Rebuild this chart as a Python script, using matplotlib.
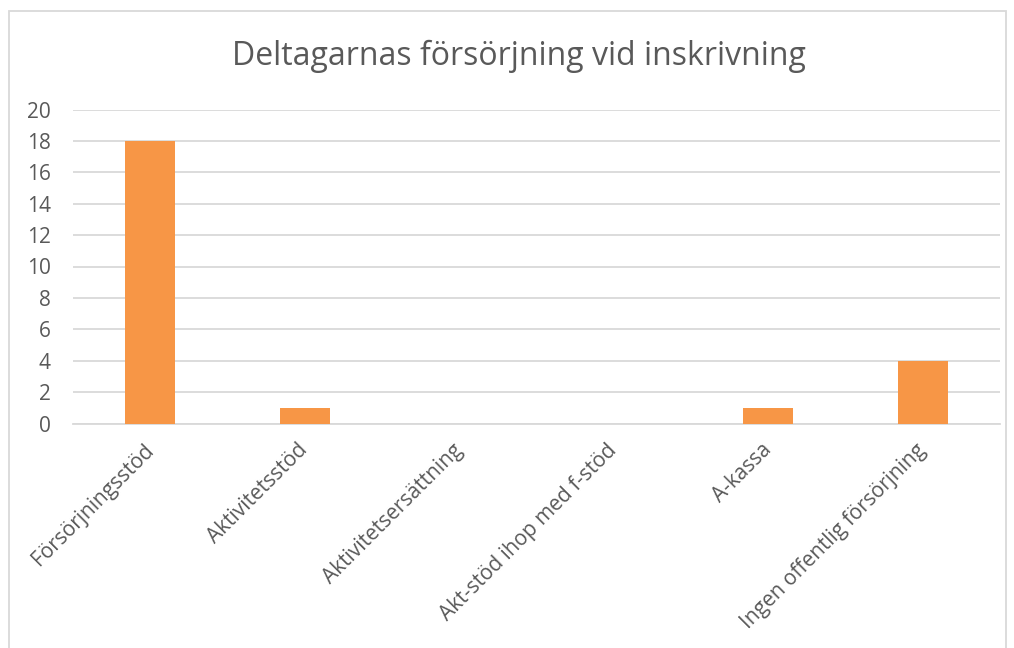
import matplotlib.pyplot as plt
from matplotlib.patches import Rectangle

# ── Data ──────────────────────────────────────────────────────────────────────
kategorier = ['Försörjningsstöd', 'Aktivitetsstöd', 'Aktivitetsersättning',
              'Akt-stöd ihop med f-stöd', 'A-kassa',
              'Ingen offentlig försörjning']
antal = [18, 1, 0, 0, 1, 4]
y_ticks = [0, 2, 4, 6, 8, 10, 12, 14, 16, 18, 20]

TEXT = '#595959'
GRID = '#D9D9D9'
ORANGE = '#F79646'

plt.rcParams['font.family'] = ['Open Sans', 'DejaVu Sans']

fig = plt.figure(figsize=(10.14, 6.48), dpi=100)
ax = fig.add_axes([73 / 1014, 1 - 423.5 / 648, 927 / 1014, 314 / 648])

# ram runt diagrammet
fig.patches.append(Rectangle((9 / 1014, -0.05), 997 / 1014, 1 - 10.5 / 648 + 0.05,
                             transform=fig.transFigure, fill=False,
                             edgecolor=GRID, linewidth=1.3))

x = range(len(kategorier))
ax.bar(x, antal, width=0.324, color=ORANGE, zorder=3)

ax.set_xlim(-0.5, len(kategorier) - 0.5)
ax.set_ylim(0, 20)
ax.set_yticks(y_ticks)
ax.set_yticklabels([str(v) for v in y_ticks], color=TEXT, fontsize=15)
ax.yaxis.grid(True, color=GRID, linewidth=1.3, zorder=0)
ax.tick_params(axis='both', length=0)
ax.tick_params(axis='y', pad=16)

ax.set_xticks(list(x))
ax.set_xticklabels(kategorier, rotation=45, ha='right', va='center',
                   rotation_mode='anchor', color=TEXT, fontsize=15)
ax.tick_params(axis='x', pad=17)

for s in ['top', 'right', 'left']:
    ax.spines[s].set_visible(False)
ax.spines['bottom'].set_color(GRID)
ax.spines['bottom'].set_linewidth(1.3)

fig.text(519 / 1014, 1 - 56 / 648, 'Deltagarnas försörjning vid inskrivning',
         ha='center', va='center', fontsize=23, color=TEXT)

fig.savefig('out.png', dpi=100)
